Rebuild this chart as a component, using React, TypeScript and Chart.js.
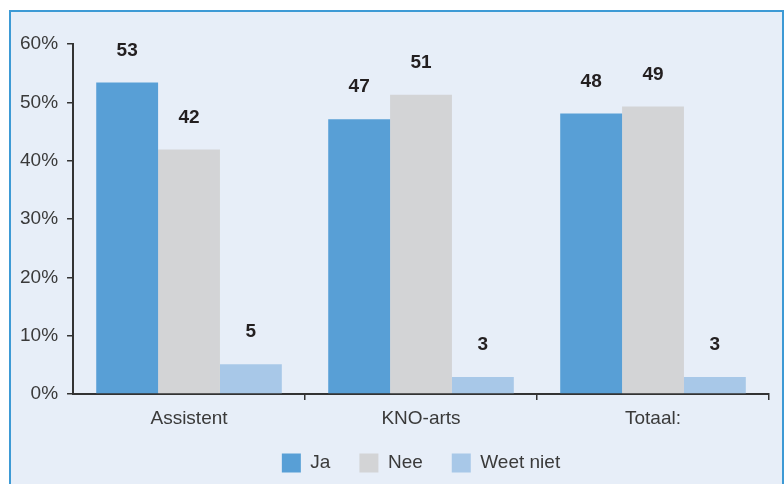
import React, { useEffect, useRef } from "react";
import { Chart, registerables } from "chart.js";

Chart.register(...registerables);

const categories = ["Assistent", "KNO-arts", "Totaal:"];
const jaValues = [53.4, 47.1, 48.1];
const neeValues = [41.9, 51.3, 49.3];
const weetNietValues = [5.1, 2.9, 2.9];
const seriesNames = ["Ja", "Nee", "Weet niet"];
const yTicks = [0, 10, 20, 30, 40, 50, 60];

const FONT = "'Liberation Sans', Arial, Helvetica, sans-serif";

const valueLabels = {
  id: "valueLabels",
  afterDatasetsDraw(chart: any) {
    const ctx = chart.ctx;
    ctx.save();
    ctx.font = `bold 19px ${FONT}`;
    ctx.fillStyle = "#231f20";
    ctx.textAlign = "center";
    ctx.textBaseline = "middle";
    chart.data.datasets.forEach((ds: any, i: number) => {
      const meta = chart.getDatasetMeta(i);
      meta.data.forEach((el: any, j: number) => {
        const v = ds.data[j];
        ctx.fillText(String(Math.round(v)), el.x, el.y - 32);
      });
    });
    ctx.restore();
  },
};

export default function App() {
  const ref = useRef<HTMLCanvasElement | null>(null);
  useEffect(() => {
    if (!ref.current) return;
    const chart = new Chart(ref.current, {
      type: "bar",
      data: {
        labels: categories,
        datasets: [
          { label: seriesNames[0], data: jaValues, backgroundColor: "#589fd6" },
          { label: seriesNames[1], data: neeValues, backgroundColor: "#d3d4d6" },
          { label: seriesNames[2], data: weetNietValues, backgroundColor: "#a8c8e8" },
        ],
      },
      options: {
        animation: false,
        responsive: false,
        maintainAspectRatio: false,
        layout: { padding: { left: 11, right: 15, top: 44, bottom: 1.5 } },
        datasets: {
          bar: { categoryPercentage: 0.8, barPercentage: 1.0 },
        },
        plugins: {
          tooltip: { enabled: false },
          legend: {
            position: "bottom",
            fullSize: false,
            labels: {
              boxWidth: 19,
              boxHeight: 19,
              padding: 29,
              color: "#3a3a3a",
              font: { family: FONT, size: 19 },
            },
          },
        },
        scales: {
          x: {
            afterFit: (axis: any) => {
              axis.height = 30.5;
            },
            grid: {
              display: true,
              drawOnChartArea: false,
              drawTicks: true,
              tickLength: 6,
              lineWidth: 1.5,
              color: (c: any) => (c.index === 0 ? "rgba(0,0,0,0)" : "#333333"),
            },
            border: { display: true, color: "#333333", width: 2 },
            ticks: {
              color: "#3a3a3a",
              font: { family: FONT, size: 19 },
              padding: 7,
            },
          },
          y: {
            min: 0,
            max: 60,
            afterBuildTicks: (axis: any) => {
              axis.ticks = yTicks.map((v) => ({ value: v }));
            },
            grid: {
              display: true,
              drawOnChartArea: false,
              drawTicks: true,
              tickLength: 6,
              lineWidth: 1.5,
              color: "#333333",
            },
            border: { display: true, color: "#333333", width: 2 },
            ticks: {
              color: "#3a3a3a",
              font: { family: FONT, size: 19 },
              padding: 9,
              callback: (v: any) => `${v}%`,
            },
          },
        },
      },
      plugins: [valueLabels],
    });
    return () => chart.destroy();
  }, []);

  return (
    <div style={{ position: "absolute", left: 0, top: 0, width: 784, height: 484, background: "#ffffff", overflow: "hidden" }}>
      <div
        style={{
          position: "absolute",
          left: 9,
          top: 10,
          width: 775,
          height: 474,
          boxSizing: "border-box",
          background: "#e7eef8",
          borderTop: "2px solid #3d9ad5",
          borderLeft: "2px solid #3d9ad5",
          borderRight: "2px solid #3d9ad5",
        }}
      />
      <canvas ref={ref} width={784} height={484} style={{ position: "absolute", left: 0, top: 0, width: 784, height: 484 }} />
    </div>
  );
}
